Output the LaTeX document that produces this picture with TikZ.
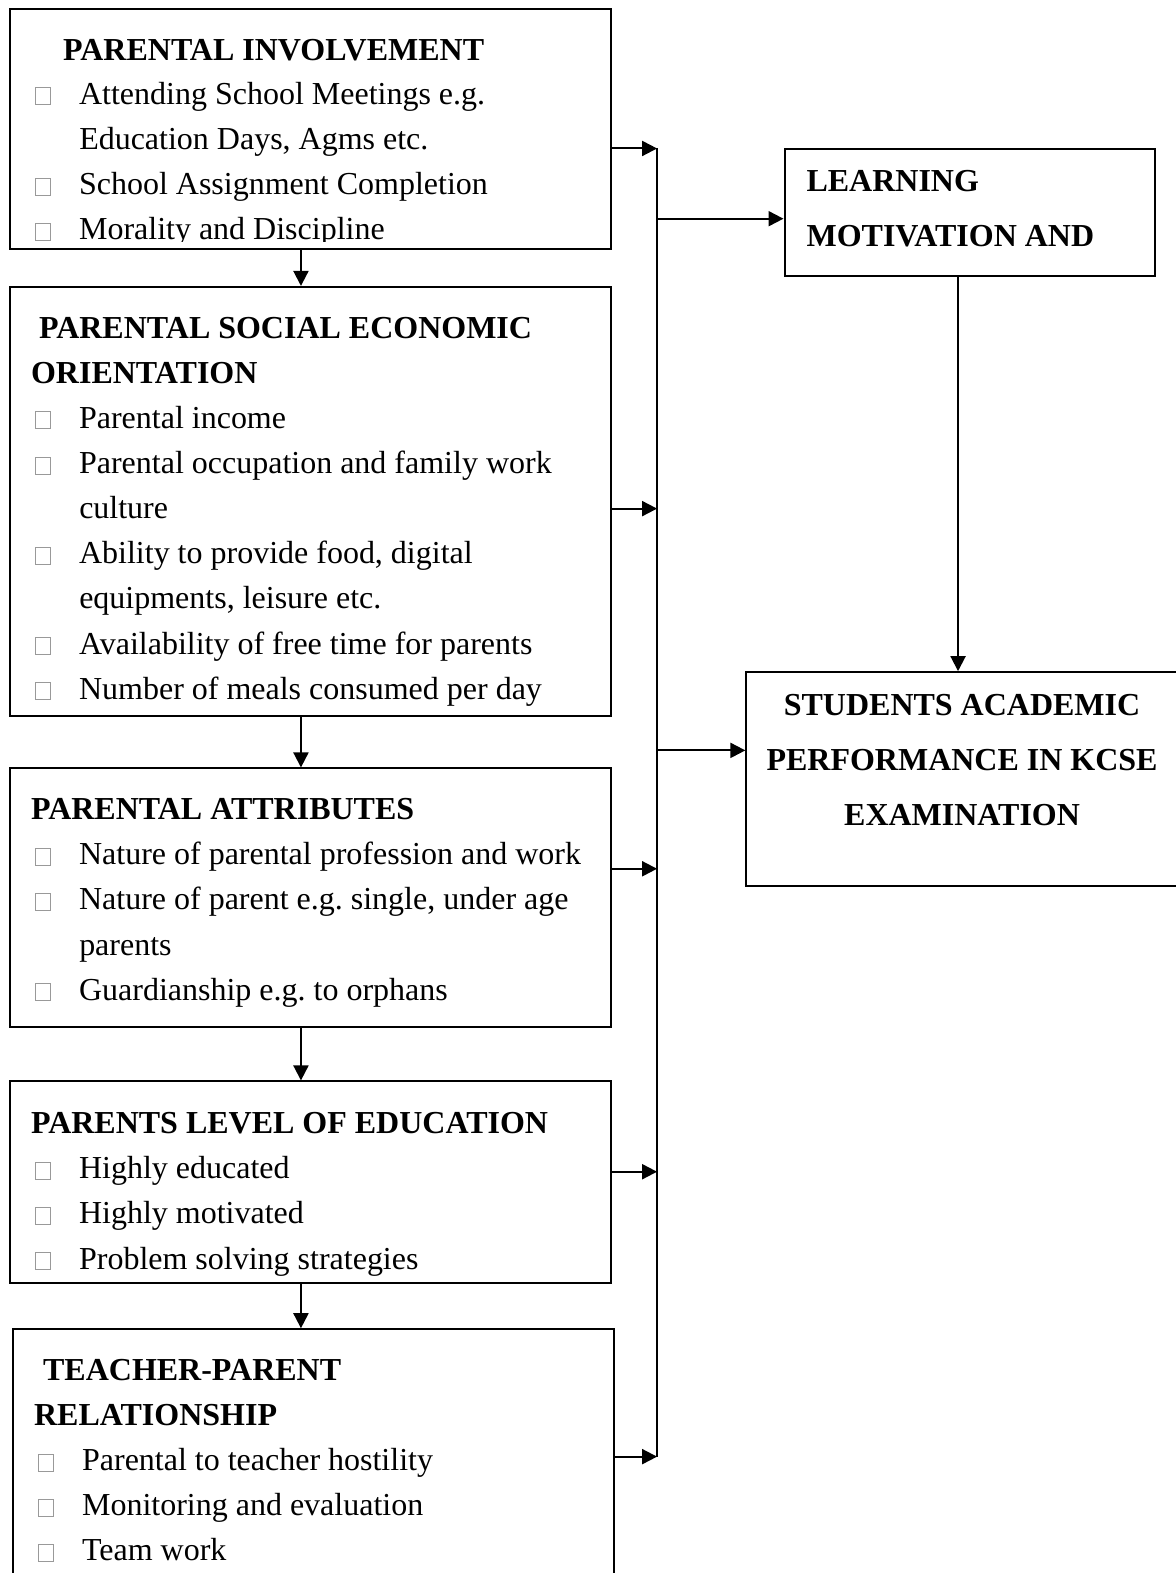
\documentclass[tikz,border=0pt]{standalone}
\usepackage{fontspec}
\setmainfont{Liberation Serif}
\usetikzlibrary{arrows.meta,fit}
\frenchspacing
% empty square used as bullet
\newcommand\bx{\makebox[22pt][l]{\color{black!40}\setlength\fboxrule{0.5pt}\setlength\fboxsep{0pt}\fbox{\rule{0pt}{8pt}\rule{7pt}{0pt}}}}
\tikzset{
  box/.style={draw, inner sep=0pt, line width=1pt},
  hd/.style={anchor=base west, inner sep=0pt, font=\fontsize{16}{19}\selectfont\bfseries},
  it/.style={anchor=base west, inner sep=0pt, font=\fontsize{16}{19}\selectfont},
  hc/.style={anchor=base, inner sep=0pt, font=\fontsize{16}{19}\selectfont\bfseries}
}
\begin{document}
\begin{tikzpicture}[x=0.50171pt, y=-0.50171pt, line width=1pt, >={Triangle[length=7.5pt,width=7.5pt]}]
\useasboundingbox (0,0) rectangle (1172,1568);
%
\node[box, fit={(10,9) (609,248)}] (pi) {};
\node[hd] (piT) at (62,60) {PARENTAL INVOLVEMENT};
\node[it] (pi1) at (34,104) {\bx Attending School Meetings e.g.};
\node[it] (pi2) at (78,149) {Education Days, Agms etc.};
\node[it] (pi3) at (34,194) {\bx School Assignment Completion};
\begin{scope}
\clip (0,0) rectangle (1172,241);
\node[it] (pi4) at (34,239) {\bx Morality and Discipline};
\end{scope}
%
\node[box, fit={(10,286) (609,714)}] (ps) {};
\node[hd] (psT) at (38,337) {PARENTAL SOCIAL ECONOMIC};
\node[hd] (psT2) at (30,382) {ORIENTATION};
\node[it] (ps1) at (34,427) {\bx Parental income};
\node[it] (ps2) at (34,472) {\bx Parental occupation and family work};
\node[it] (ps3) at (78,517) {culture};
\node[it] (ps4) at (34,562) {\bx Ability to provide food, digital};
\node[it] (ps5) at (78,607) {equipments, leisure etc.};
\node[it] (ps6) at (34,652) {\bx Availability of free time for parents};
\node[it] (ps7) at (34,697) {\bx Number of meals consumed per day};
%
\node[box, fit={(10,766) (609,1024)}] (pa) {};
\node[hd] (paT) at (30,817) {PARENTAL ATTRIBUTES};
\node[it] (pa1) at (34,862) {\bx Nature of parental profession and work};
\node[it] (pa2) at (34,907) {\bx Nature of parent e.g. single, under age};
\node[it] (pa3) at (78,952) {parents};
\node[it] (pa4) at (34,997) {\bx Guardianship e.g. to orphans};
%
\node[box, fit={(10,1078) (609,1279)}] (pe) {};
\node[hd] (peT) at (30,1130) {PARENTS LEVEL OF EDUCATION};
\node[it] (pe1) at (34,1175) {\bx Highly educated};
\node[it] (pe2) at (34,1220) {\bx Highly motivated};
\node[it] (pe3) at (34,1265) {\bx Problem solving strategies};
%
\node[box, fit={(13,1325) (612,1600)}] (tp) {};
\node[hd] (tpT) at (42,1376) {TEACHER-PARENT};
\node[hd] (tpT2) at (33,1421) {RELATIONSHIP};
\node[it] (tp1) at (37,1466) {\bx Parental to teacher hostility};
\node[it] (tp2) at (37,1511) {\bx Monitoring and evaluation};
\node[it] (tp3) at (37,1556) {\bx Team work};
%
\node[box, fit={(782,149) (1151,275)}] (lm) {};
\node[hd] (lmT) at (803,191) {LEARNING};
\node[hd] (lmT2) at (803,246) {MOTIVATION AND};
%
\node[box, fit={(744,670) (1190,883)}] (sap) {};
\node[hc] (sap1) at (959,713) {STUDENTS ACADEMIC};
\node[hc] (sap2) at (959,768) {PERFORMANCE IN KCSE};
\node[hc] (sap3) at (959,823) {EXAMINATION};
%
\coordinate (ax) at (300,0);
\draw[->] (pi.south -| ax) -- (ps.north -| ax);
\draw[->] (ps.south -| ax) -- (pa.north -| ax);
\draw[->] (pa.south -| ax) -- (pe.north -| ax);
\draw[->] (pe.south -| ax) -- (tp.north -| ax);
%
\coordinate (b1) at (655,148);
\coordinate (b2) at (655,507);
\coordinate (b3) at (655,866);
\coordinate (b4) at (655,1168);
\coordinate (b5) at (655,1452);
\draw (b1) -- (b5);
\draw[->] (pi.east |- b1) -- (b1);
\draw[->] (ps.east |- b2) -- (b2);
\draw[->] (pa.east |- b3) -- (b3);
\draw[->] (pe.east |- b4) -- (b4);
\draw[->] (tp.east |- b5) -- (b5);
%
\coordinate (bl) at (655,218);
\draw[->] (bl) -- (lm.west |- bl);
\coordinate (bs) at (655,748);
\draw[->] (bs) -- (sap.west |- bs);
\coordinate (dx) at (955,0);
\draw[->] (lm.south -| dx) -- (sap.north -| dx);
\end{tikzpicture}
\end{document}
